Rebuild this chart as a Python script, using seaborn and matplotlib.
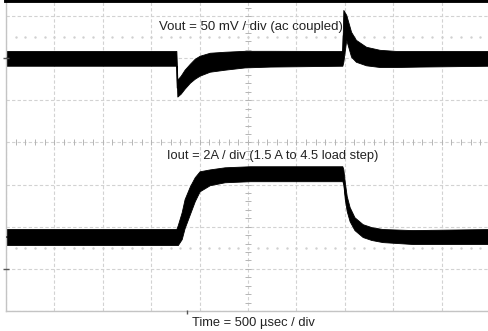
import numpy as np
import pandas as pd
import matplotlib
matplotlib.use("Agg")
import matplotlib.pyplot as plt
import seaborn as sns

# ── Trace envelopes read off the scope shot ────────────────────────────────────
# time in µs (500 µs / div, 10 div across)
vout_t  = [0, 1760, 1770, 1805, 1845, 1900, 1950, 2000, 2105, 2260, 2465, 2725,
           3475, 3485, 3515, 3565, 3615, 3720, 3860, 4035, 4270, 5000]
# Vout deviation, mV (ac coupled) – top / bottom of the noise band
vout_hi = [8.5, 8.5, -25.5, -20.8, -13.7, -6.6, -0.7, 2.8, 6.4, 7.6, 8.7, 8.7,
           8.5, 57.2, 51.3, 31.2, 21.7, 13.5, 9.9, 8.5, 8.5, 8.5]
vout_lo = [-9.0, -9.0, -45.6, -42.1, -36.2, -29.1, -24.4, -20.8, -16.1, -13.7, -11.0, -10.0,
           -9.0, -4.3, 21.7, 1.7, -4.3, -8.5, -10.5, -10.5, -10.0, -9.0]

iout_t  = [0, 1760, 1775, 1815, 1845, 1900, 1950, 2000, 2105, 2260, 2520,
           3475, 3485, 3500, 3520, 3550, 3600, 3685, 3775, 3890, 4200, 5000]
# Iout, A – top / bottom of the noise band
iout_hi = [1.89, 1.89, 2.08, 2.69, 3.31, 3.92, 4.35, 4.63, 4.72, 4.82, 4.87,
           4.87, 4.72, 4.11, 3.45, 2.93, 2.45, 2.12, 1.98, 1.89, 1.84, 1.89]
iout_lo = [1.13, 1.13, 1.13, 1.41, 1.93, 2.60, 3.21, 3.68, 3.97, 4.11, 4.16,
           4.16, 4.01, 3.31, 2.74, 2.26, 1.84, 1.51, 1.37, 1.27, 1.18, 1.18]

# channel scale / ground position (in screen divisions)
VOUT_MV_PER_DIV = 50
IOUT_A_PER_DIV  = 2
VOUT_ZERO_DIV   = 2.0
IOUT_ZERO_DIV   = -3.0

VOUT_LABEL = "Vout = 50 mV / div (ac coupled)"
IOUT_LABEL = "Iout = 2A / div (1.5 A to 4.5 load step)"
TIME_LABEL = "Time = 500 µsec / div"


def band_frame(t, hi, lo, zero, per_div):
    vals = list(hi) + list(lo)
    return pd.DataFrame({
        "t":   list(t) + list(t),
        "div": [zero + v / per_div for v in vals],
    })


sns.set_style("white")
plt.rcParams["font.family"] = ["Liberation Sans", "DejaVu Sans"]

fig = plt.figure(figsize=(4.88, 3.31), dpi=100)
ax  = fig.add_axes([6 / 488, 20 / 331, 484 / 488, 311 / 331])

# ── graticule ─────────────────────────────────────────────────────────────────
ax.set_xlim(0, 5000)
ax.set_ylim(-4, 3.38)
ax.set_xticks(np.arange(0, 5001, 500))
ax.set_yticks(np.arange(-4, 4, 1))
ax.grid(True, color="#d2d2d2", linestyle=(0, (3, 2)), linewidth=0.8)
ax.tick_params(length=0, labelbottom=False, labelleft=False)

# minor ticks on the centre cross and the dotted ±2.5 div rows
minor_t = np.arange(100, 5000, 100)
minor_d = np.arange(-3.8, 3.4, 0.2)
ax.plot(minor_t, np.zeros_like(minor_t), ls="none", marker="|", ms=4,
        mew=0.7, color="#b5b5b5", zorder=1)
ax.plot(np.full_like(minor_d, 2500), minor_d, ls="none", marker="_", ms=4,
        mew=0.7, color="#b5b5b5", zorder=1)
for lvl in (2.5, -2.5):
    ax.plot(minor_t, np.full_like(minor_t, lvl, dtype=float), ls="none",
            marker="s", ms=0.7, color="#d0d0d0", zorder=1)

for side in ("left", "bottom"):
    ax.spines[side].set_color("#c4c4c4")
    ax.spines[side].set_linewidth(1.0)
ax.spines["top"].set_color("black")
ax.spines["top"].set_linewidth(3.5)
ax.spines["right"].set_visible(False)

# ── traces ────────────────────────────────────────────────────────────────────
for t, hi, lo, zero, per_div in [
    (vout_t, vout_hi, vout_lo, VOUT_ZERO_DIV, VOUT_MV_PER_DIV),
    (iout_t, iout_hi, iout_lo, IOUT_ZERO_DIV, IOUT_A_PER_DIV),
]:
    sns.lineplot(
        data=band_frame(t, hi, lo, zero, per_div), x="t", y="div",
        estimator="mean", errorbar=("pi", 100), color="black", linewidth=0.8,
        err_kws={"alpha": 1, "linewidth": 0.6, "edgecolor": "black"}, ax=ax, zorder=3,
    )
ax.set_xlabel("")
ax.set_ylabel("")

# channel ground markers + trigger marker
ax.plot([0, 0], [VOUT_ZERO_DIV, IOUT_ZERO_DIV], ls="none", marker="_", ms=4,
        mew=1.0, color="#555555", clip_on=False, zorder=4)
ax.plot([1870], [-4.03], ls="none", marker="|", ms=2.5, mew=1.0,
        color="#555555", clip_on=False, zorder=4)

# ── annotations ───────────────────────────────────────────────────────────────
ax.text(2528, 2.74, VOUT_LABEL, ha="center", va="center", fontsize=9.5, color="#222222", zorder=5)
ax.text(2755, -0.32, IOUT_LABEL, ha="center", va="center", fontsize=9.3, color="#222222", zorder=5)
fig.text(253 / 488, 1 - 323 / 331, TIME_LABEL, ha="center", va="center",
         fontsize=9.3, color="#222222")

fig.savefig("out.png", dpi=100)
